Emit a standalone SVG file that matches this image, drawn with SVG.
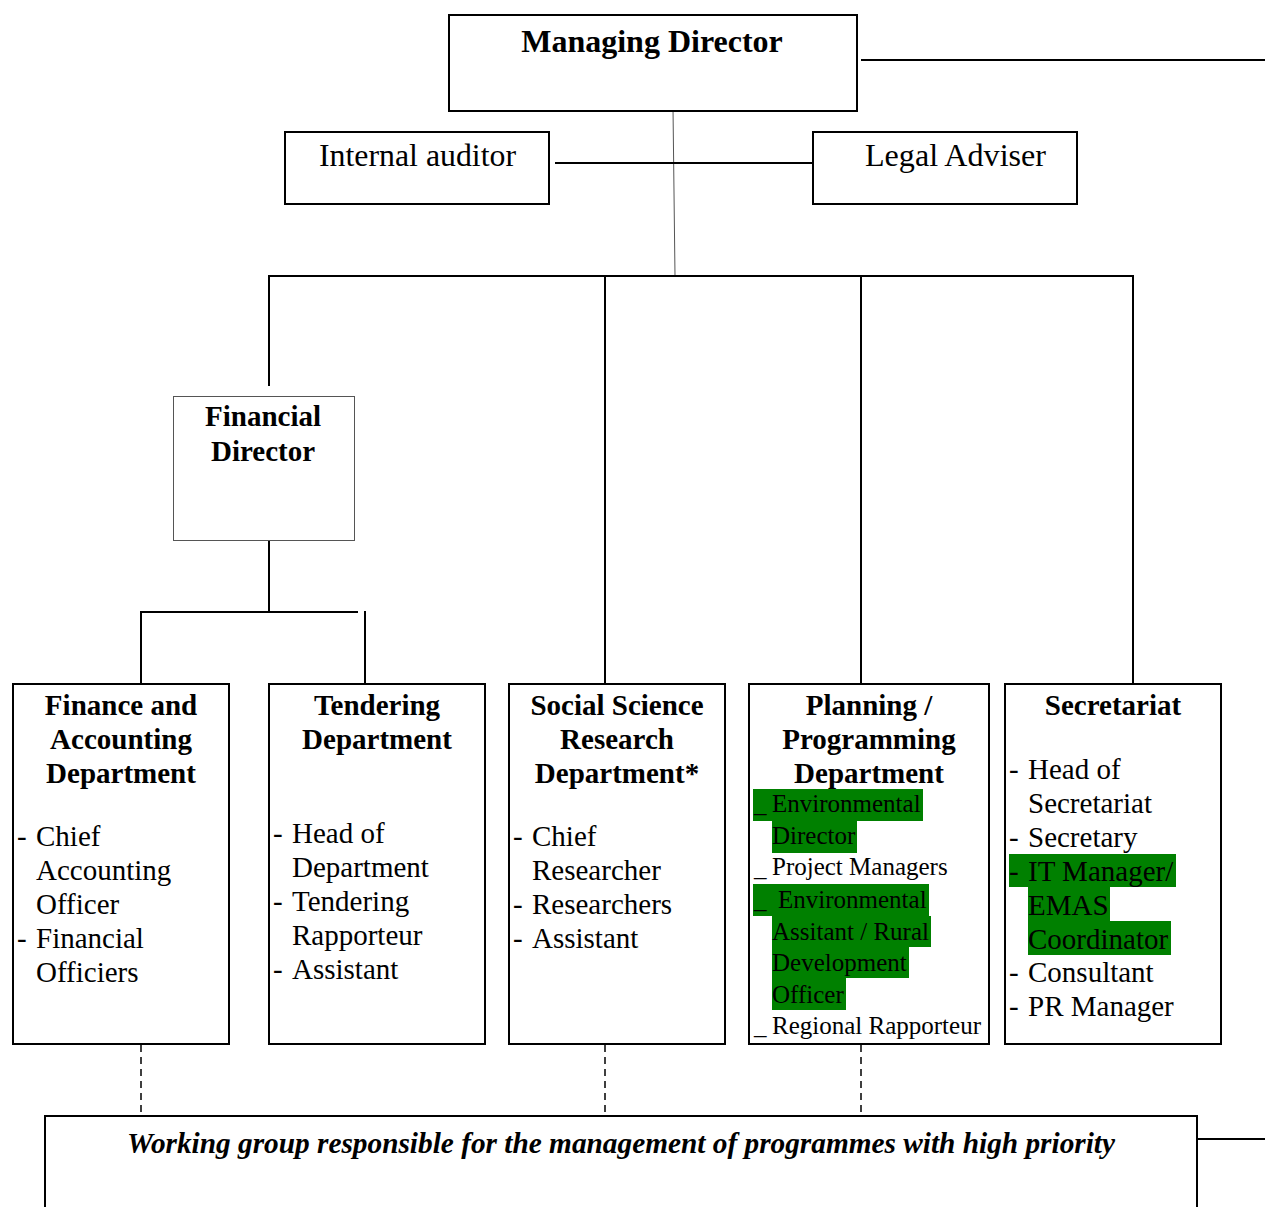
<svg xmlns="http://www.w3.org/2000/svg" width="1265" height="1207" viewBox="0 0 1265 1207">
<style>
.box{fill:#fff;stroke:#000;stroke-width:2}
.thin{fill:#fff;stroke:#555;stroke-width:1}
.ln{stroke:#000;stroke-width:2;fill:none}
.dash{stroke:#000;stroke-width:1.5;stroke-dasharray:7,5;fill:none}
text{font-family:"Liberation Serif","Times New Roman",serif;fill:#000}
.t{font-size:29px;font-weight:bold;text-anchor:middle}
.b{font-size:29px}
.s{font-size:25px}
.hl{fill:#008000}
</style>
<g id="connectors">
<line class="ln" x1="861" y1="60" x2="1265" y2="60"/>
<line x1="673" y1="108" x2="675" y2="276" stroke="#555" stroke-width="1"/>
<line class="ln" x1="555" y1="163" x2="813" y2="163"/>
<line class="ln" x1="268" y1="276" x2="1134" y2="276"/>
<line class="ln" x1="269" y1="276" x2="269" y2="386"/>
<line class="ln" x1="605" y1="276" x2="605" y2="684"/>
<line class="ln" x1="861" y1="276" x2="861" y2="684"/>
<line class="ln" x1="1133" y1="276" x2="1133" y2="684"/>
<line class="ln" x1="269" y1="540" x2="269" y2="612"/>
<line class="ln" x1="140" y1="612" x2="358" y2="612"/>
<line class="ln" x1="141" y1="612" x2="141" y2="684"/>
<line class="ln" x1="365" y1="611" x2="365" y2="684"/>
<line class="dash" x1="141" y1="1045" x2="141" y2="1116"/>
<line class="dash" x1="605" y1="1045" x2="605" y2="1116"/>
<line class="dash" x1="861" y1="1045" x2="861" y2="1116"/>
<line class="ln" x1="1197" y1="1139" x2="1265" y2="1139"/>
</g>
<g id="managing-director">
<rect class="box" x="449" y="15" width="408" height="96"/>
<text x="652" y="52" class="t" style="font-size:32px">Managing Director</text>
</g>
<g id="internal-auditor">
<rect class="box" x="285" y="132" width="264" height="72"/>
<text x="319" y="166" style="font-size:31px" textLength="197" lengthAdjust="spacingAndGlyphs">Internal auditor</text>
</g>
<g id="legal-adviser">
<rect class="box" x="813" y="132" width="264" height="72"/>
<text x="865" y="166" style="font-size:31px" textLength="181" lengthAdjust="spacingAndGlyphs">Legal Adviser</text>
</g>
<g id="financial-director">
<rect class="thin" x="173.5" y="396.5" width="181" height="144"/>
<text x="263" y="426" class="t">Financial</text>
<text x="263" y="461" class="t">Director</text>
</g>
<g id="finance-accounting">
<rect class="box" x="13" y="684" width="216" height="360"/>
<text x="121" y="715" class="t">Finance and</text>
<text x="121" y="749" class="t">Accounting</text>
<text x="121" y="783" class="t">Department</text>
<text x="17" y="846" class="b">-</text><text x="36" y="846" class="b">Chief</text>
<text x="36" y="880" class="b">Accounting</text>
<text x="36" y="914" class="b">Officer</text>
<text x="17" y="948" class="b">-</text><text x="36" y="948" class="b">Financial</text>
<text x="36" y="982" class="b">Officiers</text>
</g>
<g id="tendering">
<rect class="box" x="269" y="684" width="216" height="360"/>
<text x="377" y="715" class="t">Tendering</text>
<text x="377" y="749" class="t">Department</text>
<text x="273" y="843" class="b">-</text><text x="292" y="843" class="b">Head of</text>
<text x="292" y="877" class="b">Department</text>
<text x="273" y="911" class="b">-</text><text x="292" y="911" class="b">Tendering</text>
<text x="292" y="945" class="b">Rapporteur</text>
<text x="273" y="979" class="b">-</text><text x="292" y="979" class="b">Assistant</text>
</g>
<g id="social-science">
<rect class="box" x="509" y="684" width="216" height="360"/>
<text x="617" y="715" class="t">Social Science</text>
<text x="617" y="749" class="t">Research</text>
<text x="617" y="783" class="t">Department*</text>
<text x="513" y="846" class="b">-</text><text x="532" y="846" class="b">Chief</text>
<text x="532" y="880" class="b">Researcher</text>
<text x="513" y="914" class="b">-</text><text x="532" y="914" class="b">Researchers</text>
<text x="513" y="948" class="b">-</text><text x="532" y="948" class="b">Assistant</text>
</g>
<g id="planning">
<rect class="box" x="749" y="684" width="240" height="360"/>
<text x="869" y="715" class="t">Planning /</text>
<text x="869" y="749" class="t">Programming</text>
<text x="869" y="783" class="t">Department</text>
<rect class="hl" x="753" y="789" width="170" height="32"/>
<rect class="hl" x="772" y="821" width="85" height="32"/>
<rect class="hl" x="753" y="884" width="176" height="32"/>
<rect class="hl" x="772" y="916" width="159" height="31"/>
<rect class="hl" x="772" y="947" width="137" height="31"/>
<rect class="hl" x="772" y="978" width="74" height="32"/>
<text x="754" y="812" class="s">_</text><text x="772" y="812" class="s">Environmental</text>
<text x="772" y="844" class="s">Director</text>
<text x="754" y="876" class="s">_</text><text x="772" y="875" class="s">Project Managers</text>
<text x="754" y="908" class="s">_</text><text x="778" y="908" class="s">Environmental</text>
<text x="772" y="940" class="s">Assitant / Rural</text>
<text x="772" y="971" class="s">Development</text>
<text x="772" y="1003" class="s">Officer</text>
<text x="754" y="1034" class="s">_</text><text x="772" y="1034" class="s">Regional Rapporteur</text>
</g>
<g id="secretariat">
<rect class="box" x="1005" y="684" width="216" height="360"/>
<text x="1113" y="715" class="t">Secretariat</text>
<rect class="hl" x="1009" y="854" width="167" height="33"/>
<rect class="hl" x="1028" y="887" width="82" height="34"/>
<rect class="hl" x="1028" y="921" width="143" height="34"/>
<text x="1009" y="779" class="b">-</text><text x="1028" y="779" class="b">Head of</text>
<text x="1028" y="813" class="b">Secretariat</text>
<text x="1009" y="847" class="b">-</text><text x="1028" y="847" class="b">Secretary</text>
<text x="1009" y="881" class="b">-</text><text x="1028" y="881" class="b">IT Manager/</text>
<text x="1028" y="915" class="b">EMAS</text>
<text x="1028" y="949" class="b">Coordinator</text>
<text x="1009" y="982" class="b">-</text><text x="1028" y="982" class="b">Consultant</text>
<text x="1009" y="1016" class="b">-</text><text x="1028" y="1016" class="b">PR Manager</text>
</g>
<g id="working-group">
<rect class="box" x="45" y="1116" width="1152" height="110"/>
<text x="127" y="1153" style="font-size:29px;font-weight:bold;font-style:italic" textLength="988" lengthAdjust="spacingAndGlyphs">Working group responsible for the management of programmes with high priority</text>
</g>
</svg>
